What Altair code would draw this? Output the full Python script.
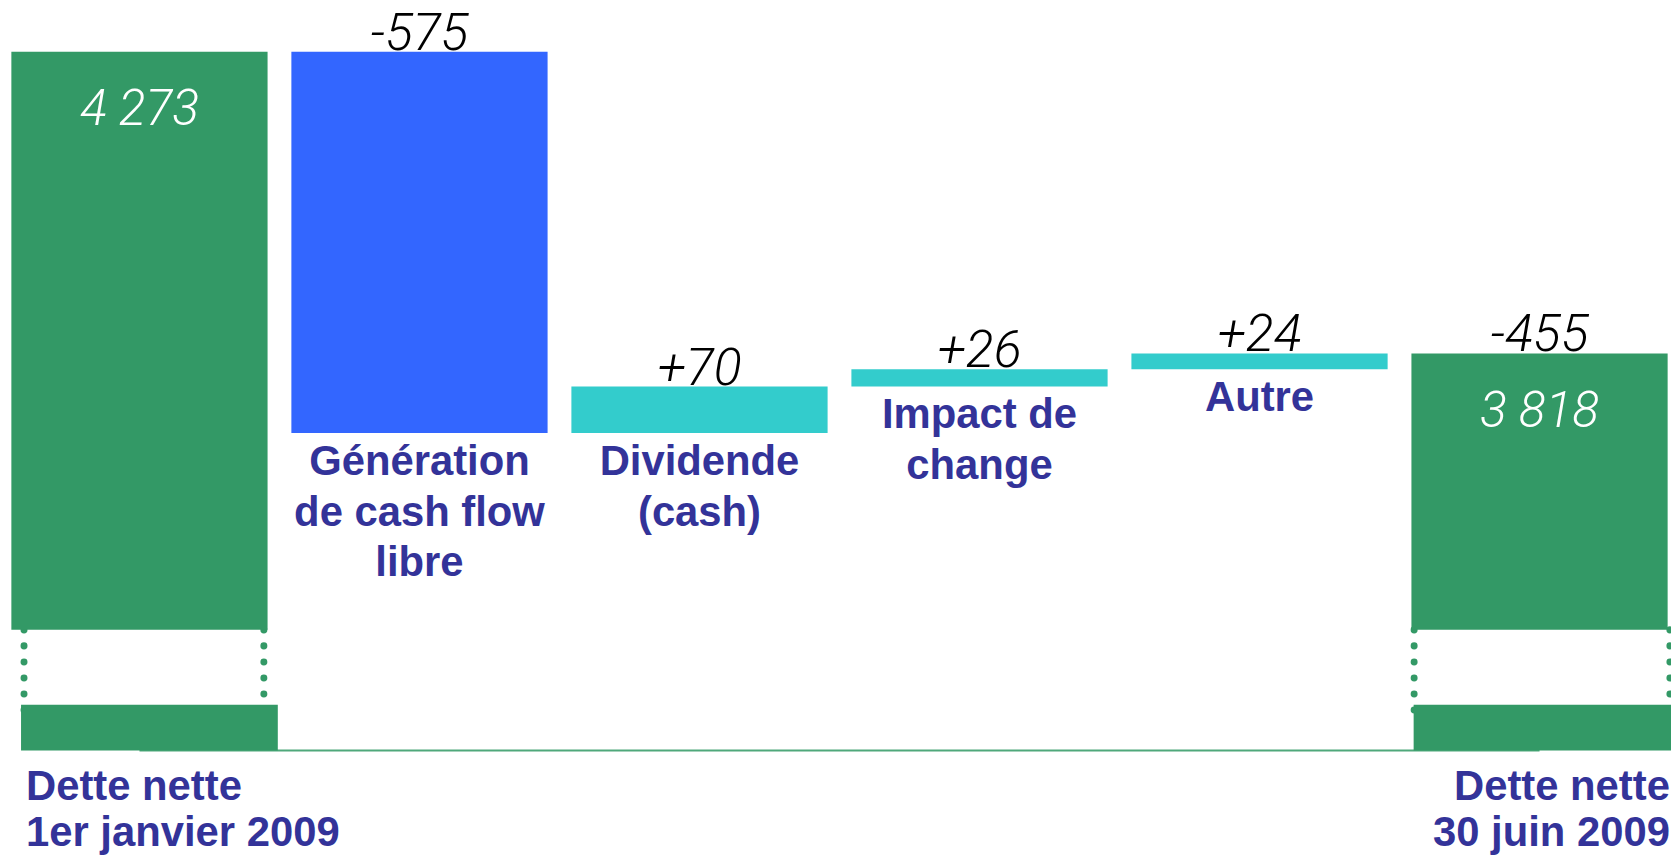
import altair as alt
import pandas as pd

# ---- data ----
keys = ["debut", "fcf", "dividende", "change", "autre", "fin"]
labels = [
    "Dette nette\n1er janvier 2009",
    "Génération\nde cash flow\nlibre",
    "Dividende\n(cash)",
    "Impact de\nchange",
    "Autre",
    "Dette nette\n30 juin 2009",
]
opening = 4273
changes = [-575, 70, 26, 24]
change_kinds = ["baisse", "hausse", "hausse", "hausse"]
change_labels = ["-575", "+70", "+26", "+24"]
closing_change_label = "-455"
total_labels = ["4 273", "3 818"]

# broken axis settings (value units)
BREAK_VALUE = 3401   # value where the upper segment is cut
STUB = 69            # height of the stub below the break
GAP = 113            # empty gap between stub and upper segment
TOP_VALUE = 4336     # value at the top of the plot area


def disp(v):
    return v - BREAK_VALUE + STUB + GAP


rows = []
run = opening
rows.append(dict(key=keys[0], kind="total", lo=disp(BREAK_VALUE), hi=disp(opening),
                 label=labels[0], top_label="", inner=total_labels[0]))
for i, c in enumerate(changes):
    new = run + c
    a, b = sorted([run, new])
    rows.append(dict(key=keys[i + 1], kind=change_kinds[i], lo=disp(a), hi=disp(b),
                     label=labels[i + 1], top_label=change_labels[i], inner=""))
    run = new
closing = run
rows.append(dict(key=keys[-1], kind="total", lo=disp(BREAK_VALUE), hi=disp(closing),
                 label=labels[-1], top_label=closing_change_label, inner=total_labels[1]))
df = pd.DataFrame(rows)
df["stub_lo"] = 0
df["stub_hi"] = STUB
df["dot_top"] = disp(BREAK_VALUE)
df["dot_bot"] = 60

xscale = alt.Scale(domain=keys, paddingInner=0.085, paddingOuter=0.012)
yscale = alt.Scale(domain=[0, disp(TOP_VALUE)], nice=False, zero=False)

X = alt.X("key:N", scale=xscale, axis=None)

GREEN = "#339966"
LABEL_COLOR = "#333399"
VAL_FONT = "Roboto"

c = alt.Chart(df)
totals = c.transform_filter("datum.kind == 'total'")
first = c.transform_filter("datum.key == 'debut'")
last = c.transform_filter("datum.key == 'fin'")

bars = c.mark_bar().encode(
    x=X,
    y=alt.Y("lo:Q", scale=yscale, axis=None),
    y2="hi:Q",
    color=alt.Color("kind:N", scale=alt.Scale(domain=["total", "baisse", "hausse"],
                                              range=[GREEN, "#3366FF", "#33CCCC"]), legend=None),
)

stub_first = first.mark_bar(width=258, xOffset=10, color=GREEN).encode(
    x=X, y=alt.Y("stub_lo:Q", scale=yscale, axis=None), y2="stub_hi:Q")
stub_last = last.mark_bar(width=259, xOffset=3, color=GREEN).encode(
    x=X, y=alt.Y("stub_lo:Q", scale=yscale, axis=None), y2="stub_hi:Q")

baseline = totals.mark_line(color="#4fa87b", strokeWidth=2).encode(
    x=X, y=alt.Y("stub_lo:Q", scale=yscale, axis=None))


def dots(src, off):
    return src.mark_rule(
        color=GREEN, strokeWidth=7, strokeCap="round", strokeDash=[0.1, 16], xOffset=off
    ).encode(x=X, y=alt.Y("dot_top:Q", scale=yscale, axis=None), y2="dot_bot:Q")


dot_layers = [dots(first, -116), dots(first, 125), dots(last, -126), dots(last, 131)]

top_text = c.transform_filter("datum.top_label != ''").mark_text(
    font=VAL_FONT, fontSize=52, fontStyle="italic", fontWeight=300, color="black",
    baseline="alphabetic", dy=-2
).encode(x=X, y=alt.Y("hi:Q", scale=yscale, axis=None), text="top_label:N")

inner_text = c.transform_filter("datum.inner != ''").mark_text(
    font=VAL_FONT, fontSize=50, fontStyle="italic", fontWeight=300, color="white",
    baseline="alphabetic", dy=74
).encode(x=X, y=alt.Y("hi:Q", scale=yscale, axis=None), text="inner:N")

mid_labels = c.transform_filter("datum.kind != 'total'").mark_text(
    font="Liberation Sans", fontWeight="bold", fontSize=42, color=LABEL_COLOR,
    lineBreak="\n", lineHeight=51, baseline="alphabetic", dy=42
).encode(x=X, y=alt.Y("lo:Q", scale=yscale, axis=None), text="label:N")

first_label = first.mark_text(
    font="Liberation Sans", fontWeight="bold", fontSize=42, color=LABEL_COLOR,
    lineBreak="\n", lineHeight=46, baseline="alphabetic", align="left", dy=50, dx=-114
).encode(x=X, y=alt.Y("stub_lo:Q", scale=yscale, axis=None), text="label:N")

last_label = last.mark_text(
    font="Liberation Sans", fontWeight="bold", fontSize=42, color=LABEL_COLOR,
    lineBreak="\n", lineHeight=46, baseline="alphabetic", align="right", dy=50, dx=131
).encode(x=X, y=alt.Y("stub_lo:Q", scale=yscale, axis=None), text="label:N")

chart = alt.layer(
    baseline, *dot_layers, bars, stub_first, stub_last,
    top_text, inner_text, mid_labels, first_label, last_label
).properties(
    width=1671, height=744,
    autosize=alt.AutoSizeParams(type="none"),
    padding={"left": 0, "top": 0, "right": 0, "bottom": 108},
).configure_view(stroke=None)

chart.save("out.html", embed_options={"renderer": "svg", "actions": False})
